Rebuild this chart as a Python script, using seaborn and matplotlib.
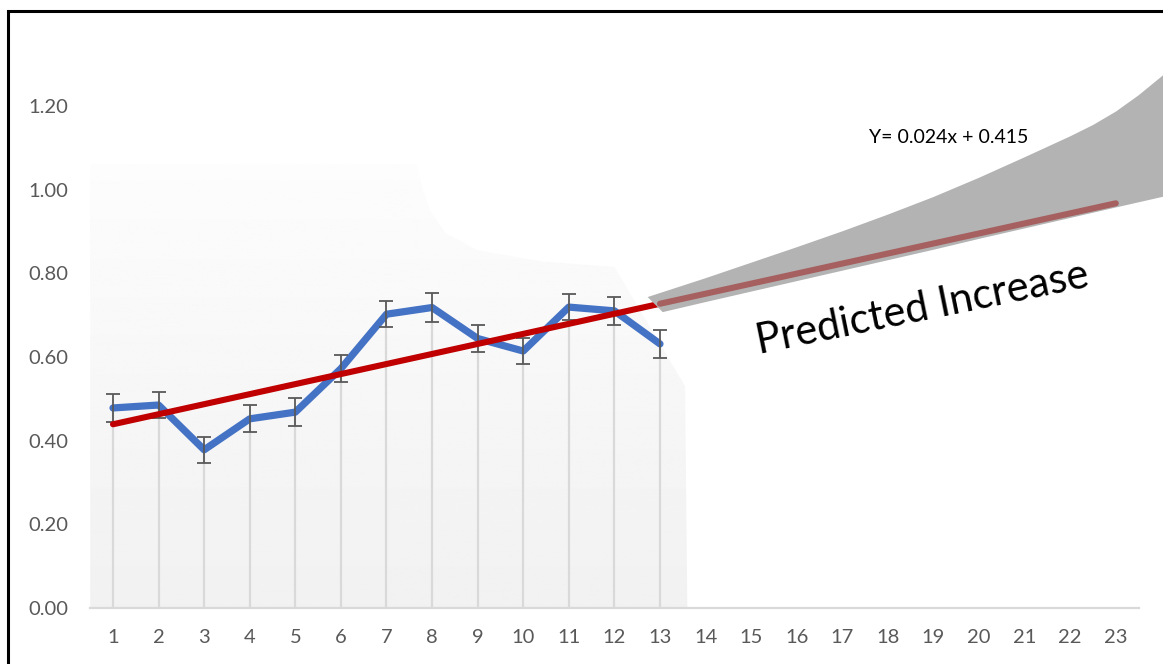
import numpy as np
import pandas as pd
import matplotlib
matplotlib.use("Agg")
import matplotlib.pyplot as plt
from matplotlib.patches import Rectangle, Polygon
import seaborn as sns

# Observed series (weeks 1-13) with error half-widths
weeks = [1, 2, 3, 4, 5, 6, 7, 8, 9, 10, 11, 12, 13]
values = [0.478, 0.485, 0.378, 0.452, 0.468, 0.572, 0.702, 0.718, 0.644, 0.614, 0.719, 0.710, 0.631]
errors = [0.033, 0.031, 0.031, 0.032, 0.033, 0.032, 0.031, 0.034, 0.032, 0.031, 0.031, 0.033, 0.033]

# Linear trend: Y = slope * x + intercept
slope = 0.024
intercept = 0.415
forecast_end = 23

# Prediction band around the projected trend
band_upper_x = [12.73, 14, 15, 16, 17, 18, 19, 20, 21, 22, 22.5, 23, 23.5, 24.05]
band_upper = [0.743, 0.788, 0.825, 0.862, 0.900, 0.940, 0.982, 1.028, 1.077, 1.127, 1.154, 1.186, 1.225, 1.274]
band_lower_x = [13.06, 14, 15, 16, 17, 18, 19, 20, 21, 22, 23, 24.05]
band_lower = [0.707, 0.731, 0.756, 0.781, 0.806, 0.831, 0.856, 0.882, 0.907, 0.932, 0.957, 0.983]

categories = list(range(1, 24))
y_ticks = [0.0, 0.2, 0.4, 0.6, 0.8, 1.0, 1.2]

sns.set_theme(style="white")
plt.rcParams["font.family"] = ["Lato", "DejaVu Sans"]

W, H = 1163, 664
fig = plt.figure(figsize=(W / 100, H / 100), dpi=100)
ax = fig.add_axes([90.2 / W, (H - 608) / H, 1048.4 / W, 1.3 * 418.5 / H])
ax.set_xlim(0.5, 23.5)
ax.set_ylim(0, 1.3)

# soft shaded backdrop behind the observed period
shape = [(0.5, 0), (0.5, 1.06), (7.65, 1.06), (7.8, 1.0), (7.95, 0.95), (8.3, 0.895),
         (9.0, 0.855), (10.4, 0.828), (12.0, 0.815), (13.55, 0.53), (13.6, 0)]
grad = np.linspace(0.945, 0.99, 256).reshape(-1, 1)
img = ax.imshow(grad, extent=(0.5, 13.6, 0, 1.06), origin="lower", cmap="gray",
                vmin=0, vmax=1, aspect="auto", zorder=0)
clip = Polygon(shape, closed=True, transform=ax.transData, facecolor="none", edgecolor="none")
ax.add_patch(clip)
img.set_clip_path(clip)

df = pd.DataFrame({"week": weeks, "value": values, "err": errors})

# drop lines
ax.vlines(df["week"], 0, df["value"], color="#d9d9d9", lw=1.6, zorder=1)

sns.lineplot(data=df, x="week", y="value", ax=ax, color="#4472C4", lw=5.2,
             solid_capstyle="round", solid_joinstyle="round", zorder=3)
ax.errorbar(df["week"], df["value"], yerr=df["err"], fmt="none", ecolor="#595959",
            elinewidth=1.3, capsize=5, capthick=1.3, zorder=4)

trend = pd.DataFrame({"week": weeks})
trend["fit"] = slope * trend["week"] + intercept
sns.lineplot(data=trend, x="week", y="fit", ax=ax, color="#C00000", lw=4.4,
             solid_capstyle="round", zorder=5)

# prediction cone
ax.fill(np.r_[band_upper_x, band_lower_x[::-1]], np.r_[band_upper, band_lower[::-1]],
        color="#b3b3b3", lw=0, zorder=6, clip_on=False)

proj = pd.DataFrame({"week": [weeks[-1], forecast_end]})
proj["fit"] = slope * proj["week"] + intercept
sns.lineplot(data=proj, x="week", y="fit", ax=ax, color="#a5605f", lw=4.4,
             solid_capstyle="round", zorder=7)

ax.text(19.33, 1.125, f"Y= {slope}x + {intercept}", fontsize=14, color="black",
        ha="center", va="center", zorder=8)
ax.text(18.75, 0.715, "Predicted Increase", fontsize=30, color="black", rotation=11.5,
        rotation_mode="anchor", ha="center", va="center", zorder=8)

ax.set_xticks(categories)
ax.set_xticklabels([str(c) for c in categories])
ax.set_yticks(y_ticks)
ax.set_yticklabels([f"{t:.2f}" for t in y_ticks])
ax.tick_params(axis="both", length=0, labelsize=14.5, labelcolor="#595959")
ax.tick_params(axis="x", pad=15)
ax.tick_params(axis="y", pad=16)
ax.set_xlabel("")
ax.set_ylabel("")
ax.grid(False)
for s in ["left", "top", "right"]:
    ax.spines[s].set_visible(False)
ax.spines["bottom"].set_color("#d9d9d9")
ax.spines["bottom"].set_linewidth(1.6)
ax.patch.set_alpha(0)

# outer frame
fig.patches.append(Rectangle((8 / W, -0.1), 1.2, (H - 11) / H + 0.1, transform=fig.transFigure,
                             fill=False, edgecolor="black", lw=2.2, zorder=10))

fig.savefig("out.png", dpi=100)
